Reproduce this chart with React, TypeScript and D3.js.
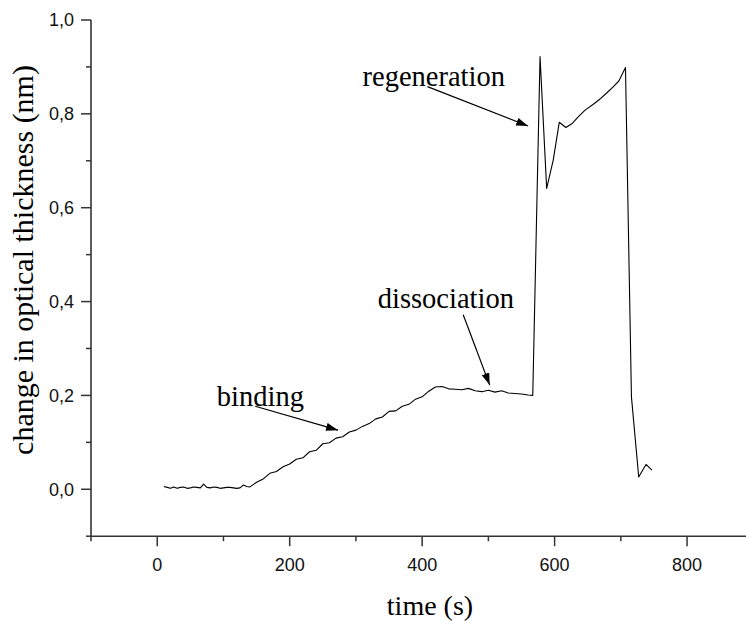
import React from "react";
import * as d3 from "d3";

const times: number[] = [
  10, 15, 20, 25, 30, 35, 40, 45, 50, 55, 60, 65, 70, 75, 80, 85, 90, 95, 100, 105, 110, 115, 120, 125, 130, 135, 140,
  150, 160, 170, 180, 190, 200, 210, 220, 230, 240, 250, 260, 270, 280, 290,
  300, 310, 320, 330, 340, 350, 360, 370, 380, 390, 400, 410, 420, 430,
  440, 450, 460, 470, 480, 490, 500, 510, 520, 530, 540, 550, 560, 567,
  578, 588, 598, 607, 617, 627, 636, 646, 658, 668, 679, 688, 697, 707,
  716, 727, 738, 747,
];
const thickness: number[] = [
  0.006, 0.004, 0.002, 0.005, 0.002, 0.004, 0.005, 0.002, 0.003, 0.005, 0.004, 0.003, 0.011, 0.004, 0.003, 0.005, 0.004, 0.002, 0.003, 0.004, 0.004, 0.003, 0.002, 0.003, 0.009, 0.006, 0.005,
  0.015, 0.022, 0.034, 0.038, 0.048, 0.054, 0.064, 0.067, 0.080, 0.083, 0.097, 0.099, 0.109, 0.112, 0.122,
  0.126, 0.134, 0.140, 0.150, 0.154, 0.166, 0.167, 0.177, 0.181, 0.192, 0.197, 0.209, 0.218, 0.219,
  0.214, 0.213, 0.212, 0.215, 0.210, 0.208, 0.211, 0.207, 0.210, 0.205, 0.204, 0.203, 0.201, 0.200,
  0.922, 0.641, 0.702, 0.782, 0.771, 0.780, 0.794, 0.808, 0.820, 0.831, 0.845, 0.857, 0.870, 0.899,
  0.197, 0.026, 0.053, 0.041,
];

const xMajorTicks: number[] = [0, 200, 400, 600, 800];
const xMinorTicks: number[] = [-100, 100, 300, 500, 700, 900];
const yMajorTicks: number[] = [0.0, 0.2, 0.4, 0.6, 0.8, 1.0];
const yMinorTicks: number[] = [-0.1, 0.1, 0.3, 0.5, 0.7, 0.9];

const annotationLabels: string[] = ["binding", "dissociation", "regeneration"];
// annotation text anchor (data coords) and arrow start/end (data coords)
const annotationText: [number, number][] = [[90, 0.177], [333, 0.386], [310, 0.86]];
const arrowFrom: [number, number][] = [[148, 0.177], [462, 0.372], [408, 0.858]];
const arrowTo: [number, number][] = [[273, 0.126], [502, 0.222], [560, 0.774]];

const W = 746;
const H = 621;

export default function App() {
  const x = d3.scaleLinear().domain([-100, 900]).range([91, 753.3]);
  const y = d3.scaleLinear().domain([-0.1, 1.0]).range([536.2, 20]);
  const pts = times.map((t, i) => [t, thickness[i]] as [number, number]);
  const line = d3
    .line<[number, number]>()
    .x((d) => x(d[0]))
    .y((d) => y(d[1]));
  const axisColor = "#333";
  const fmt = (v: number) => v.toFixed(1).replace(".", ",");
  const x0 = x(-100);
  const yb = y(-0.1);
  const serif = "'Liberation Serif', 'Times New Roman', serif";
  const sans = "'Liberation Sans', Arial, sans-serif";

  return (
    <svg
      width={W}
      height={H}
      style={{ position: "absolute", left: 0, top: 0, background: "#fff" }}
    >
      <defs>
        <marker
          id="ah"
          viewBox="0 0 12 8"
          refX="12"
          refY="4"
          markerWidth="12"
          markerHeight="8"
          markerUnits="userSpaceOnUse"
          orient="auto"
        >
          <path d="M0,0 L12,4 L0,8 Z" fill="#000" />
        </marker>
      </defs>
      <rect x={0} y={0} width={W} height={H} fill="#fff" />

      {/* axes */}
      <line x1={x0} x2={x0} y1={y(1.0)} y2={yb} stroke={axisColor} strokeWidth={1.6} />
      <line x1={x0} x2={x(900)} y1={yb} y2={yb} stroke={axisColor} strokeWidth={1.6} />

      {yMajorTicks.map((v) => (
        <g key={"ym" + v}>
          <line x1={x0 - 10} x2={x0} y1={y(v)} y2={y(v)} stroke={axisColor} strokeWidth={1.5} />
          <text
            x={x0 - 17}
            y={y(v)}
            dy="0.36em"
            textAnchor="end"
            fontFamily={sans}
            fontSize={18}
            fill="#111"
          >
            {fmt(v)}
          </text>
        </g>
      ))}
      {yMinorTicks.map((v) => (
        <line key={"yn" + v} x1={x0 - 5} x2={x0} y1={y(v)} y2={y(v)} stroke={axisColor} strokeWidth={1.5} />
      ))}
      {xMajorTicks.map((v) => (
        <g key={"xm" + v}>
          <line x1={x(v)} x2={x(v)} y1={yb} y2={yb + 10} stroke={axisColor} strokeWidth={1.5} />
          <text
            x={x(v)}
            y={571}
            textAnchor="middle"
            fontFamily={sans}
            fontSize={18}
            fill="#111"
          >
            {v}
          </text>
        </g>
      ))}
      {xMinorTicks.map((v) => (
        <line key={"xn" + v} x1={x(v)} x2={x(v)} y1={yb} y2={yb + 5} stroke={axisColor} strokeWidth={1.5} />
      ))}

      {/* axis titles */}
      <text
        x={430}
        y={615}
        textAnchor="middle"
        fontFamily={serif}
        fontSize={28}
        fill="#000"
      >
        time (s)
      </text>
      <text
        transform={`translate(33,260) rotate(-90)`}
        textAnchor="middle"
        fontFamily={serif}
        fontSize={30}
        fill="#000"
      >
        change in optical thickness (nm)
      </text>

      {/* data */}
      <path d={line(pts) || ""} fill="none" stroke="#000" strokeWidth={1.1} strokeLinejoin="round" />

      {/* annotations */}
      {annotationLabels.map((lab, i) => (
        <g key={lab}>
          <text
            x={x(annotationText[i][0])}
            y={y(annotationText[i][1])}
            fontFamily={serif}
            fontSize={28.5}
            fill="#000"
          >
            {lab}
          </text>
          <line
            x1={x(arrowFrom[i][0])}
            y1={y(arrowFrom[i][1])}
            x2={x(arrowTo[i][0])}
            y2={y(arrowTo[i][1])}
            stroke="#000"
            strokeWidth={1.2}
            markerEnd="url(#ah)"
          />
        </g>
      ))}
    </svg>
  );
}
